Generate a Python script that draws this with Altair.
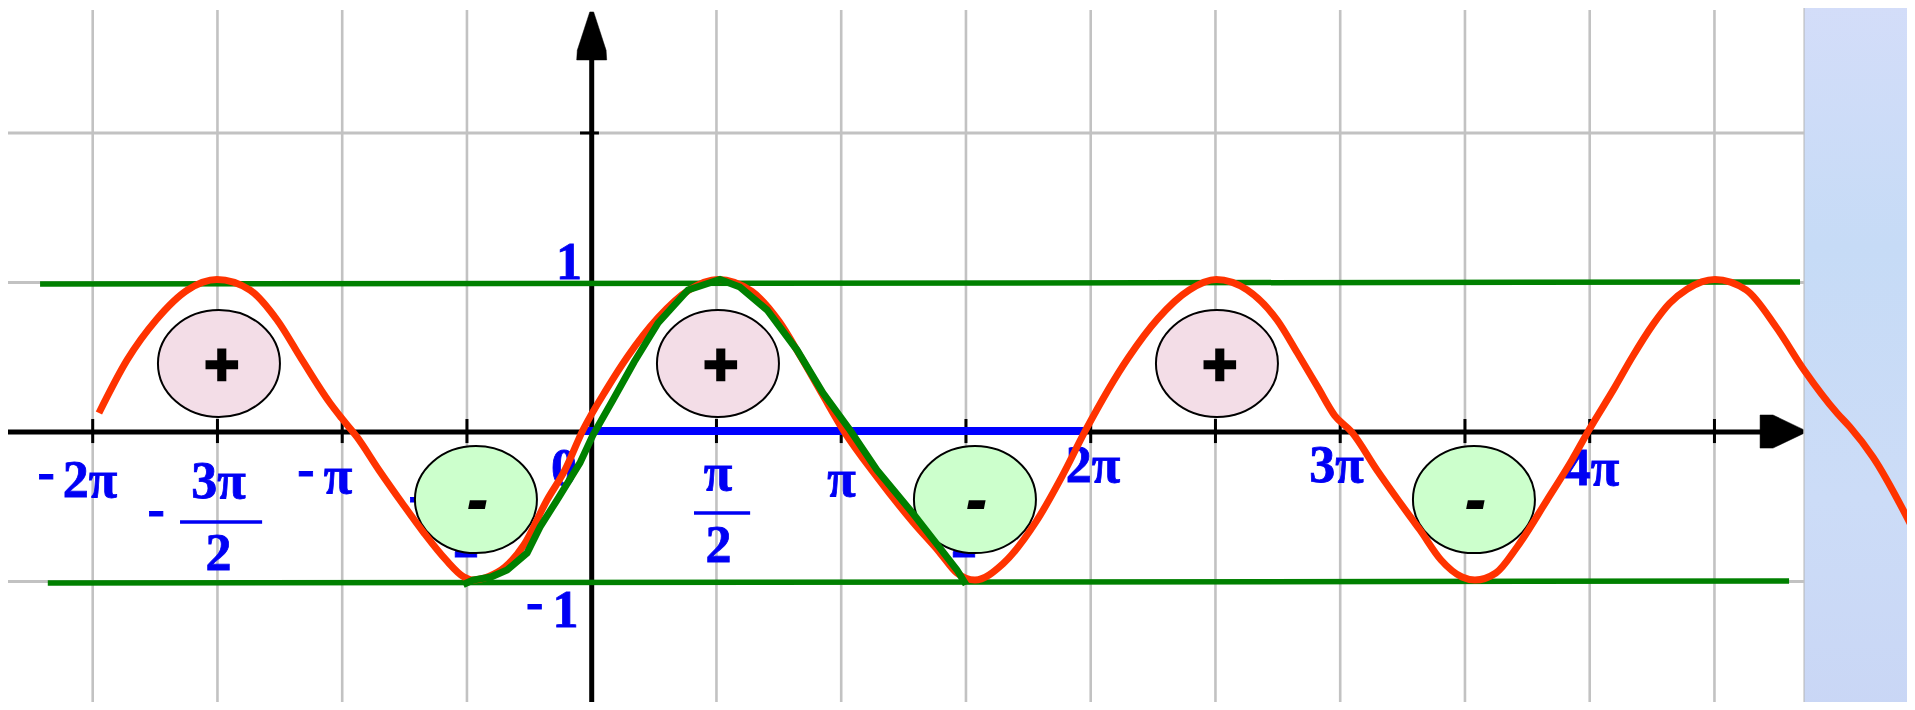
import altair as alt
import pandas as pd

# ---------------- values ----------------
# x in units of pi, y in function units
red_x = [-1.975, -1.862, -1.746, -1.620, -1.502, -1.370, -1.261, -1.161, -1.049, -1.003,
         -0.941, -0.853, -0.760, -0.672, -0.584, -0.512, -0.480, -0.408, -0.347, -0.272,
         -0.179, -0.107, -0.035, 0.061, 0.142, 0.266, 0.390, 0.506, 0.642, 0.751,
         0.839, 0.925, 1.008, 1.143, 1.286, 1.392, 1.464, 1.536, 1.649, 1.781, 1.884,
         1.978, 2.150, 2.270, 2.395, 2.503, 2.627, 2.747, 2.828, 2.910, 2.978, 3.046,
         3.147, 3.232, 3.320, 3.404, 3.488, 3.540, 3.624, 3.709, 3.829, 3.929,
         3.997, 4.101, 4.170, 4.254, 4.320, 4.390, 4.502, 4.627, 4.747, 4.859, 4.991,
         5.043, 5.135, 5.304]
red_y = [0.127, 0.482, 0.749, 0.950, 1.020, 0.950, 0.749, 0.482, 0.194, 0.094,
         -0.033, -0.254, -0.475, -0.676, -0.856, -0.970, -0.990, -0.963, -0.903, -0.756,
         -0.455, -0.254, 0.013, 0.290, 0.500, 0.765, 0.950, 1.020, 0.940, 0.740,
         0.500, 0.250, 0.013, -0.300, -0.600, -0.800, -0.943, -0.990, -0.880, -0.600, -0.300,
         0.007, 0.495, 0.760, 0.950, 1.020, 0.950, 0.749, 0.530, 0.300, 0.110, 0.000,
         -0.254, -0.455, -0.656, -0.856, -0.970, -0.990, -0.943, -0.769, -0.455, -0.187,
         0.013, 0.300, 0.500, 0.720, 0.860, 0.955, 1.020, 0.950, 0.702, 0.415, 0.127,
         0.033, -0.167, -0.676]

green_x = [-0.515, -0.476, -0.404, -0.339, -0.259, -0.207, -0.139, -0.047, 0.005, 0.085,
           0.170, 0.266, 0.386, 0.514, 0.594, 0.703, 0.823, 0.927, 1.035, 1.143,
           1.286, 1.392, 1.464, 1.500]
green_y = [-1.020, -0.990, -0.970, -0.923, -0.809, -0.635, -0.455, -0.207, -0.020, 0.214,
           0.468, 0.729, 0.950, 1.020, 0.970, 0.816, 0.548, 0.261, 0.013, -0.254,
           -0.542, -0.769, -0.923, -1.020]

# horizontal green bounds y = 1 and y = -1
bound_x1 = [-2.211, -2.180]
bound_x2 = [4.843, 4.799]
bound_y1 = [0.990, -1.010]
bound_y2 = [1.003, -0.997]

# blue period segment [0, 2pi]
period_x = [-0.039, 1.973]
period_y = [0.007, 0.007]

# grid / ticks
grid_x = [-2, -1.5, -1, -0.5, 0.5, 1, 1.5, 2, 2.5, 3, 3.5, 4, 4.5]
grid_y = [2, 1, -1]
ytick_y = [2]

# tick labels (visible pieces of the stacked pi fractions)
label_text = ["-", "2π", "-", "3π", "2", "-", "π", "-", "2", "0", "-", "1", "1",
              "π", "2", "π", "2", "2π", "3π", "4π"]
label_x = [-2.187, -2.011, -1.746, -1.496, -1.496, -1.145, -1.017, -0.700, -0.504,
           -0.111, -0.229, -0.105, -0.091, 0.506, 0.508, 1.001, 1.492, 2.009,
           2.985, 4.009]
label_y = [-0.378, -0.435, -0.632, -0.441, -0.923, -0.358, -0.408, -0.532, -0.836,
           -0.355, -1.248, -1.304, 1.023, -0.388, -0.870, -0.428, -0.836, -0.334,
           -0.334, -0.355]
bar_x1 = [-1.650, 0.410]
bar_x2 = [-1.321, 0.635]
bar_y = [-0.602, -0.542]

# sign regions
plus_centers = [-1.5, 0.5, 2.5]
minus_centers = [-0.5, 1.5, 3.5]

# ---------------- layout ----------------
X_DOMAIN = [-2.3395, 5.2717]
Y_DOMAIN = [-1.806, 2.836]
W, H = 1899, 694
WHITE_RIGHT = 4.859
GRID_TOP = 2.823

xsc = alt.Scale(domain=X_DOMAIN, nice=False, zero=False)
ysc = alt.Scale(domain=Y_DOMAIN, nice=False, zero=False)


def ex(f):
    return alt.X(f, type="quantitative", scale=xsc, axis=None)


def ey(f):
    return alt.Y(f, type="quantitative", scale=ysc, axis=None)


layers = []

# light-blue slide background on the right
bg_df = pd.DataFrame({"x1": [WHITE_RIGHT], "x2": [X_DOMAIN[1] + 0.1],
                      "y1": [Y_DOMAIN[0] - 0.1], "y2": [Y_DOMAIN[1] + 0.1]})
grad = alt.LinearGradient(
    gradient="linear",
    stops=[alt.GradientStop(color="#D4DDF9", offset=0),
           alt.GradientStop(color="#C6DBF6", offset=0.35),
           alt.GradientStop(color="#CCDCF7", offset=0.7),
           alt.GradientStop(color="#C9D6F5", offset=1)],
    x1=0, x2=0, y1=0, y2=1)
layers.append(alt.Chart(bg_df).mark_rect(fill=grad, strokeWidth=0, clip=True).encode(
    x=ex("x1"), x2="x2", y=ey("y1"), y2="y2"))
layers.append(alt.Chart(pd.DataFrame({"x": [WHITE_RIGHT], "y1": [Y_DOMAIN[0]], "y2": [Y_DOMAIN[1]]}))
              .mark_rule(color="#B4B4B4", strokeWidth=1).encode(x=ex("x"), y=ey("y1"), y2="y2"))

# grid
vg = pd.DataFrame({"x": grid_x, "y1": [GRID_TOP] * len(grid_x), "y2": [Y_DOMAIN[0]] * len(grid_x)})
layers.append(alt.Chart(vg).mark_rule(color="#C2C2C2", strokeWidth=2.6).encode(
    x=ex("x"), y=ey("y1"), y2="y2"))
hg = pd.DataFrame({"y": grid_y, "x1": [X_DOMAIN[0]] * len(grid_y), "x2": [WHITE_RIGHT] * len(grid_y)})
layers.append(alt.Chart(hg).mark_rule(color="#C2C2C2", strokeWidth=3).encode(
    y=ey("y"), x=ex("x1"), x2="x2"))

# axes
layers.append(alt.Chart(pd.DataFrame({"x1": [X_DOMAIN[0]], "x2": [4.70], "y": [0.0]}))
              .mark_rule(color="black", strokeWidth=5).encode(x=ex("x1"), x2="x2", y=ey("y")))
layers.append(alt.Chart(pd.DataFrame({"x": [0.0], "y1": [2.56], "y2": [Y_DOMAIN[0]]}))
              .mark_rule(color="black", strokeWidth=5).encode(x=ex("x"), y=ey("y1"), y2="y2"))
xt = pd.DataFrame({"x": grid_x, "y1": [0.087] * len(grid_x), "y2": [-0.074] * len(grid_x)})
layers.append(alt.Chart(xt).mark_rule(color="black", strokeWidth=3).encode(
    x=ex("x"), y=ey("y1"), y2="y2"))
yt = pd.DataFrame({"y": ytick_y, "x1": [-0.047], "x2": [0.029]})
layers.append(alt.Chart(yt).mark_rule(color="black", strokeWidth=3).encode(
    y=ey("y"), x=ex("x1"), x2="x2"))

up_arrow = "M -0.08 -1 L 0.08 -1 L 0.6 0.6 L 0.625 1 L -0.625 1 L -0.6 0.6 Z"
right_arrow = "M -1 -0.77 L -0.4 -0.77 L 1 -0.1 L 1 0.1 L -0.4 0.77 L -1 0.77 Z"
layers.append(alt.Chart(pd.DataFrame({"x": [0.0], "y": [2.649]})).mark_point(
    shape=up_arrow, size=48 * 48, filled=True, fill="black", stroke="black",
    strokeWidth=0.5, opacity=1).encode(x=ex("x"), y=ey("y")))
layers.append(alt.Chart(pd.DataFrame({"x": [4.769], "y": [0.003]})).mark_point(
    shape=right_arrow, size=43 * 43, filled=True, fill="black", stroke="black",
    strokeWidth=0.5, opacity=1).encode(x=ex("x"), y=ey("y")))

# labels
lab = pd.DataFrame({"t": label_text, "x": label_x, "y": label_y})
layers.append(alt.Chart(lab).mark_text(
    font="Liberation Serif", fontSize=52, fontWeight="bold", color="#0000F4",
    stroke="#0000F4", strokeWidth=0.8,
    align="center", baseline="alphabetic").encode(x=ex("x"), y=ey("y"), text="t:N"))
bars = pd.DataFrame({"x1": bar_x1, "x2": bar_x2, "y": bar_y})
layers.append(alt.Chart(bars).mark_rule(color="#0000F4", strokeWidth=3.5).encode(
    x=ex("x1"), x2="x2", y=ey("y")))

# sign ellipses
ellipse = ("M 1 0 C 1 0.4844 0.5523 0.877 0 0.877 C -0.5523 0.877 -1 0.4844 -1 0 "
           "C -1 -0.4844 -0.5523 -0.877 0 -0.877 C 0.5523 -0.877 1 -0.4844 1 0 Z")
pe = pd.DataFrame({"x": [c + 0.006 for c in plus_centers], "y": [0.458] * 3})
me = pd.DataFrame({"x": [c + 0.036 for c in minus_centers], "y": [-0.452] * 3})
layers.append(alt.Chart(pe).mark_point(shape=ellipse, size=122 * 122, filled=True,
                                       fill="#F3DDE7", stroke="black", strokeWidth=2,
                                       opacity=1).encode(x=ex("x"), y=ey("y")))
layers.append(alt.Chart(me).mark_point(shape=ellipse, size=122 * 122, filled=True,
                                       fill="#CCFFCC", stroke="black", strokeWidth=2,
                                       opacity=1).encode(x=ex("x"), y=ey("y")))
ps = pd.DataFrame({"x": [c + 0.017 for c in plus_centers], "y": [0.437] * 3, "t": ["+"] * 3})
ms = pd.DataFrame({"x": [c + 0.042 for c in minus_centers], "y": [-0.476] * 3, "t": ["-"] * 3})
layers.append(alt.Chart(ps).mark_text(font="Liberation Sans", fontSize=60, fontWeight="bold",
                                      color="black", stroke="black", strokeWidth=2.5,
                                      align="center", baseline="middle").encode(
    x=ex("x"), y=ey("y"), text="t:N"))
layers.append(alt.Chart(ms).mark_text(font="Liberation Sans", fontSize=58, fontWeight="bold",
                                      fontStyle="italic", color="black", stroke="black",
                                      strokeWidth=2, align="center", baseline="middle").encode(
    x=ex("x"), y=ey("y"), text="t:N"))

# blue period segment
layers.append(alt.Chart(pd.DataFrame({"x": period_x, "y": period_y})).mark_line(
    color="#0000FF", strokeWidth=8, strokeCap="butt").encode(x=ex("x"), y=ey("y")))

# green bounds
bd = pd.DataFrame({"x1": bound_x1, "x2": bound_x2, "y1": bound_y1, "y2": bound_y2})
layers.append(alt.Chart(bd).mark_rule(color="#008000", strokeWidth=5.5).encode(
    x=ex("x1"), x2="x2", y=ey("y1"), y2="y2"))

# red curve
red = pd.DataFrame({"x": red_x, "y": red_y, "o": list(range(len(red_x)))})
layers.append(alt.Chart(red).mark_line(color="#FF3300", strokeWidth=7, interpolate="monotone",
                                       clip=True).encode(x=ex("x"), y=ey("y"), order="o:Q"))

# green curve (one period)
grn = pd.DataFrame({"x": green_x, "y": green_y, "o": list(range(len(green_x)))})
layers.append(alt.Chart(grn).mark_line(color="#008000", strokeWidth=7, strokeJoin="miter",
                                       strokeCap="butt").encode(
    x=ex("x"), y=ey("y"), order="o:Q"))

chart = alt.layer(*layers).properties(
    width=W, height=H, padding=0,
    autosize=alt.AutoSizeParams(type="none"),
    background="white",
).configure_view(strokeWidth=0)

chart.save("out.html", embed_options={"renderer": "svg", "actions": False})
